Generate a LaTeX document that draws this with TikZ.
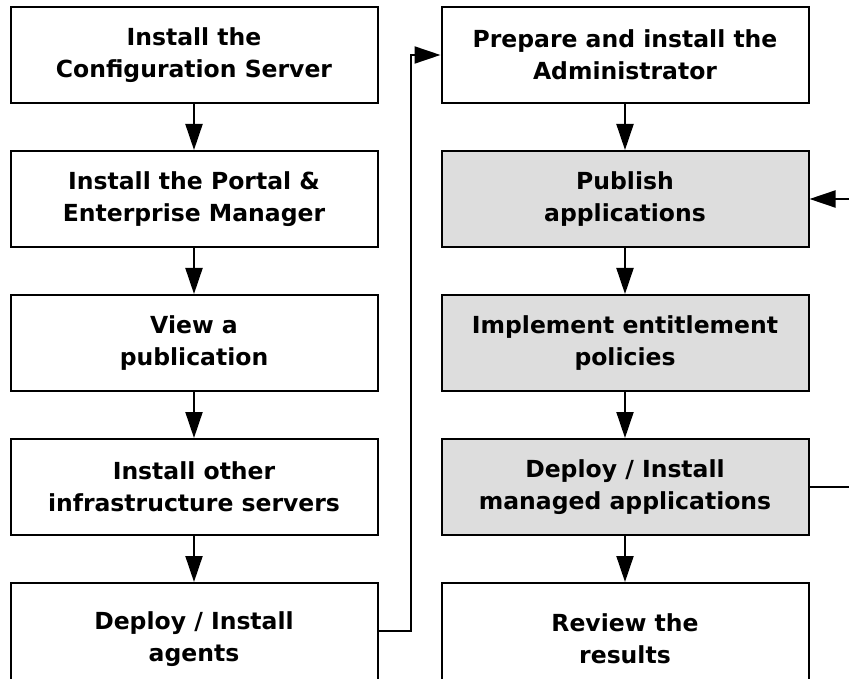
\documentclass[tikz,border=0pt]{standalone}
\usepackage{fontspec}
\setmainfont{DejaVu Sans}
\usepackage{xcolor}
\usetikzlibrary{positioning,arrows.meta}
\definecolor{boxgray}{RGB}{221,221,221}

\begin{document}
\begin{tikzpicture}[
    node distance=46pt and 62pt,
    box/.style={rectangle, draw, fill=white, minimum width=367pt, minimum height=96pt,
                align=center, font=\bfseries\fontsize{23.5}{32}\selectfont, line width=2pt},
    graybox/.style={box, fill=boxgray},
    arrow/.style={-{Triangle[length=26pt, width=17pt]}, line width=2pt},
]
\useasboundingbox (0,0) rectangle (849pt,-679pt);
\clip (0,0) rectangle (849pt,-679pt);

% Left column: infrastructure
\node[box] (config) at (194pt,-55pt) {Install the\\Configuration Server};
\node[box, below=of config] (portal) {Install the Portal \&\\Enterprise Manager};
\node[box, below=of portal] (view) {View a\\publication};
\node[box, below=of view] (infra) {Install other\\infrastructure servers};
\node[box, minimum height=112pt, below=of infra] (agents) {Deploy / Install\\agents};

% Right column: applications
\node[box, right=of config] (admin) {Prepare and install the\\Administrator};
\node[graybox, below=of admin] (publish) {Publish\\applications};
\node[graybox, below=of publish] (policies) {Implement entitlement\\policies};
\node[graybox, below=of policies] (managed) {Deploy / Install\\managed applications};
\node[box, minimum height=112pt, below=of managed] (review) {Review the\\results};

% Arrows
\draw[arrow] (config) -- (portal);
\draw[arrow] (portal) -- (view);
\draw[arrow] (view) -- (infra);
\draw[arrow] (infra) -- (agents);
\draw[arrow] (agents.east) ++(0,8pt) -- ++(32pt,0) |- (admin.west);
\draw[arrow] (admin) -- (publish);
\draw[arrow] (publish) -- (policies);
\draw[arrow] (policies) -- (managed);
\draw[arrow] (managed) -- (review);
\draw[arrow] (managed.east) -- ++(70pt,0) |- (publish.east);
\end{tikzpicture}
\end{document}
